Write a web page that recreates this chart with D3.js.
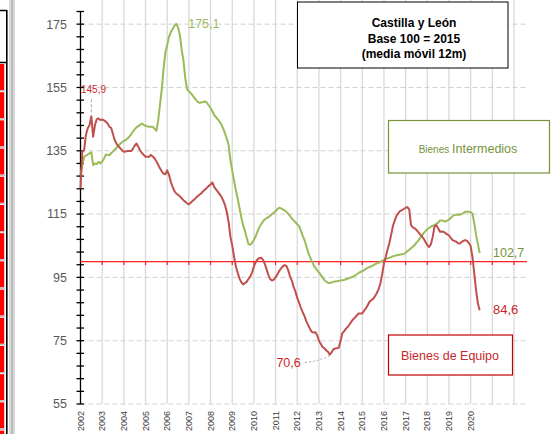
<!DOCTYPE html>
<html><head><meta charset="utf-8">
<script src="https://cdn.jsdelivr.net/npm/d3@7"></script>
<style>
body{margin:0;background:#fff;}
svg{display:block;font-family:"Liberation Sans",Arial,sans-serif;}
</style></head>
<body><svg id="c" width="558" height="434"></svg>
<script>
// Monthly data, Jan 2002 .. Jun 2020 (12-month moving average, base 2015 = 100)
const startYear = 2002;
const intermedios = [
127.3,130.5,133.0,133.5,133.8,134.2,134.5,130.5,131.0,130.8,131.5,131.0,
131.6,132.5,133.8,133.7,133.6,134.2,134.8,135.4,136.0,136.6,137.2,137.7,
138.1,138.4,138.9,139.4,140.2,141.0,141.8,142.4,142.8,143.2,143.6,143.2,
142.9,142.7,142.6,142.6,142.6,142.0,141.3,144.5,149.5,154.5,161.0,166.0,
168.4,171.0,172.5,173.5,174.5,175.1,174.0,171.5,167.0,163.5,158.0,154.5,
153.8,153.2,152.6,151.8,151.0,150.4,150.1,150.3,150.4,150.6,150.2,149.3,
148.5,147.5,146.3,145.6,144.9,144.2,143.3,142.0,140.5,138.8,136.8,132.0,
128.8,125.5,122.5,120.0,117.0,114.0,111.5,109.8,107.5,105.5,105.3,106.0,
106.8,108.0,109.5,110.8,111.8,112.6,113.3,113.7,114.0,114.5,115.0,115.4,
116.0,116.5,117.0,116.8,116.5,116.2,115.7,115.1,114.4,113.6,113.0,112.4,
111.8,111.2,109.8,108.2,106.8,105.0,103.0,101.5,100.2,99.0,98.0,97.3,
96.6,95.8,95.0,94.2,93.7,93.3,93.2,93.4,93.6,93.7,93.8,93.9,
94.0,94.1,94.2,94.4,94.6,94.8,95.1,95.3,95.6,96.0,96.4,96.7,
97.0,97.3,97.7,98.0,98.3,98.5,98.8,99.1,99.4,99.6,99.9,100.2,
100.5,100.8,101.0,101.2,101.4,101.7,101.8,102.0,102.1,102.2,102.3,102.4,
102.8,103.3,103.7,104.2,104.7,105.2,106.0,106.6,107.4,108.2,109.0,109.6,
110.2,110.6,111.0,111.3,111.6,111.9,112.3,113.0,113.0,112.8,112.6,112.9,
113.3,113.8,114.3,114.7,114.8,114.9,114.8,115.0,115.3,115.7,115.7,115.7,
115.6,115.2,112.1,108.5,105.5,102.7
];
const equipo = [
123.1,134.7,135.2,140.0,142.1,143.1,145.9,139.4,143.1,145.0,145.2,144.7,
144.9,144.6,144.2,143.6,142.6,142.2,140.2,138.3,137.2,136.4,135.8,135.2,
134.7,134.8,134.9,134.9,134.9,135.6,136.6,137.3,136.3,135.1,134.3,133.7,
133.1,133.1,133.1,133.7,133.2,132.6,131.7,130.6,129.5,128.5,127.8,127.6,
128.8,127.4,125.2,123.6,122.3,121.5,121.1,120.6,120.0,119.4,118.9,118.4,
118.1,118.6,119.1,119.6,120.2,120.7,121.2,121.6,122.3,122.8,123.3,123.9,
124.3,125.0,123.6,122.8,122.1,121.3,120.5,119.3,117.8,115.7,112.5,107.8,
105.2,101.5,98.5,96.5,94.7,93.5,92.8,93.2,93.6,94.5,95.3,96.5,
98.5,99.8,100.7,101.1,101.2,100.6,99.3,97.6,95.8,94.5,94.0,94.3,
95.0,96.0,97.0,97.8,98.5,98.9,98.6,97.3,95.3,94.0,92.0,90.5,
88.5,87.0,85.4,84.0,82.8,81.2,80.0,78.8,77.8,77.6,77.7,76.8,
75.0,74.0,73.0,72.6,72.0,71.5,70.6,71.3,72.3,72.5,72.6,72.8,
75.0,77.4,78.0,78.8,79.4,80.2,81.0,81.8,82.3,83.0,83.6,83.6,
83.6,84.5,85.2,86.2,87.3,87.8,88.2,89.0,90.0,91.2,93.0,96.0,
99.5,101.5,103.8,105.8,108.5,111.3,113.0,114.5,115.3,116.0,116.2,116.6,
117.0,117.2,116.5,111.5,110.8,110.5,110.0,109.3,108.6,108.0,107.2,106.2,
105.2,104.6,105.5,107.8,111.0,111.5,110.5,109.4,109.5,109.4,109.0,108.6,
108.3,107.5,106.8,106.5,106.3,105.8,105.7,106.2,106.5,106.8,106.5,105.9,
104.9,101.5,96.3,91.0,86.8,84.6
];
const yearLabels = ["2002","2003","2004","2005","2006","2007","2008","2009","2010","2011","2012","2013","2014","2015","2016","2017","2018","2019","2020"];
const gridYears = d3.range(2003, 2023);
const yLabelValues = [55,75,95,115,135,155,175];
const titleLines = ["Castilla y León","Base 100 = 2015","(media móvil 12m)"];
const annotations = [
  {series:"equipo", value:145.9, text:"145,9"},
  {series:"intermedios", value:175.1, text:"175,1"},
  {series:"equipo", value:70.6, text:"70,6"},
  {series:"intermedios", value:102.7, text:"102,7"},
  {series:"equipo", value:84.6, text:"84,6"}
];

const GREEN = "#9BBB59", RED = "#C0504D", TXTRED = "#C9262C", TXTGREEN = "#77933C";
const svg = d3.select("#c");
const x = d3.scaleLinear().domain([2002, 2022.6]).range([80.5, 527]);
const y = d3.scaleLinear().domain([55, 179]).range([404, 11.5]);
const tOf = i => startYear + i/12;

// left spreadsheet strip
const strip = svg.append("g");
strip.append("rect").attr("x",9).attr("y",0).attr("width",6).attr("height",434).attr("fill","#d9d9d9");
strip.append("rect").attr("x",11.5).attr("y",0).attr("width",1.2).attr("height",434).attr("fill","#a6a6a6");
strip.append("path").attr("d","M0,10.5H7M0,62.5H7").attr("stroke","#000").attr("stroke-width",1.5);
strip.append("rect").attr("x",6).attr("y",10).attr("width",1.6).attr("height",424).attr("fill","#000");
d3.range(64, 434, 28.2).forEach(yy=>{
  strip.append("rect").attr("x",0).attr("y",yy).attr("width",4.2).attr("height",26).attr("fill","#ff0000");
  strip.append("rect").attr("x",0).attr("y",yy+26).attr("width",5).attr("height",1.5).attr("fill","#bfbfbf");
});

// gridlines
svg.append("g").selectAll("line").data(gridYears).join("line")
  .attr("x1",d=>x(d)).attr("x2",d=>x(d)).attr("y1",0).attr("y2",404)
  .attr("stroke","#d9d9d9").attr("stroke-width",1.3);
svg.append("g").selectAll("line").data(yLabelValues).join("line")
  .attr("x1",80.5).attr("x2",527).attr("y1",d=>y(d)).attr("y2",d=>y(d))
  .attr("stroke","#d0d0d0").attr("stroke-width",1).attr("stroke-dasharray","5,3");

// y axis
svg.append("line").attr("x1",80.5).attr("x2",80.5).attr("y1",y(179)).attr("y2",y(55)).attr("stroke","#000").attr("stroke-width",1.3);
svg.append("g").selectAll("line").data(d3.range(55,180,4)).join("line")
  .attr("x1",76.5).attr("x2",84).attr("y1",d=>y(d)).attr("y2",d=>y(d)).attr("stroke","#000").attr("stroke-width",1.3);
svg.append("g").selectAll("text").data(yLabelValues).join("text")
  .attr("x",67).attr("y",d=>y(d)).attr("dy","0.35em").attr("text-anchor","end")
  .attr("font-size",12.5).attr("fill","#595959").text(d=>d);

// x labels
svg.append("g").selectAll("text").data(yearLabels).join("text")
  .attr("transform",d=>`translate(${x(+d)+3.2},411) rotate(-90)`)
  .attr("text-anchor","end").attr("font-size",9).attr("fill","#404040").text(d=>d);

// 100 reference line with ticks
svg.append("line").attr("x1",80.5).attr("x2",527).attr("y1",y(100)).attr("y2",y(100)).attr("stroke","#ff2020").attr("stroke-width",1.3);
svg.append("g").selectAll("line").data(gridYears).join("line")
  .attr("x1",d=>x(d)).attr("x2",d=>x(d)).attr("y1",y(100)).attr("y2",y(100)+3.5)
  .attr("stroke","#ff2020").attr("stroke-width",1.2);

// series
const line = d3.line().x((d,i)=>x(tOf(i))).y(d=>y(d));
svg.append("path").datum(intermedios).attr("d",line).attr("fill","none").attr("stroke",GREEN).attr("stroke-width",2).attr("stroke-linejoin","round");
svg.append("path").datum(equipo).attr("d",line).attr("fill","none").attr("stroke",RED).attr("stroke-width",2).attr("stroke-linejoin","round");

// annotations
const series = {intermedios, equipo};
const pos = a => { const arr = series[a.series]; const i = arr.indexOf(a.value); return [x(tOf(i)), y(a.value)]; };
const lead = "#a6a6a6";
// 145,9
{ const [px,py] = pos(annotations[0]);
  svg.append("line").attr("x1",px).attr("x2",px).attr("y1",py-4).attr("y2",98).attr("stroke",lead).attr("stroke-dasharray","3,2");
  svg.append("text").attr("x",81).attr("y",89.5).attr("dy","0.35em").attr("font-size",10).attr("fill",TXTRED).text(annotations[0].text); }
// 175,1
{ const [px,py] = pos(annotations[1]);
  svg.append("text").attr("x",px+12).attr("y",24).attr("dy","0.35em").attr("font-size",12.5).attr("fill",GREEN).text(annotations[1].text); }
// 70,6
{ const [px,py] = pos(annotations[2]);
  svg.append("path").attr("d",`M${px},${py+1}Q${px-12},${py+7} ${px-26},${py+8}`).attr("fill","none").attr("stroke",lead).attr("stroke-dasharray","2,2");
  svg.append("text").attr("x",px-29).attr("y",py+8).attr("dy","0.35em").attr("text-anchor","end").attr("font-size",12.5).attr("fill",TXTRED).text(annotations[2].text); }
// 102,7
{ const [px,py] = pos(annotations[3]);
  svg.append("text").attr("x",493).attr("y",py).attr("dy","0.35em").attr("font-size",12.5).attr("fill",TXTGREEN).text(annotations[3].text); }
// 84,6
{ const [px,py] = pos(annotations[4]);
  svg.append("text").attr("x",493).attr("y",py-1).attr("dy","0.35em").attr("font-size",13).attr("fill",TXTRED).text(annotations[4].text); }

// title box
svg.append("rect").attr("x",297.5).attr("y",2).attr("width",210.5).attr("height",66).attr("fill","#fff").attr("stroke","#000").attr("stroke-width",1);
svg.append("g").selectAll("text").data(titleLines).join("text")
  .attr("x",414).attr("y",(d,i)=>23+i*15.5).attr("dy","0.35em").attr("text-anchor","middle")
  .attr("font-size",12).attr("font-weight","bold").attr("fill","#000").text(d=>d);

// legend boxes
svg.append("rect").attr("x",388.5).attr("y",120.5).attr("width",161).attr("height",52.5).attr("fill","#fff").attr("stroke",TXTGREEN).attr("stroke-width",1.2);
const lt = svg.append("text").attr("x",468).attr("y",147.5).attr("dy","0.35em").attr("text-anchor","middle").attr("fill",TXTGREEN);
lt.append("tspan").attr("font-size",10).text("Bienes ");
lt.append("tspan").attr("font-size",12.5).text("Intermedios");
svg.append("rect").attr("x",388.5).attr("y",335).attr("width",124).attr("height",40).attr("fill","#fff").attr("stroke","#C00000").attr("stroke-width",1.2);
svg.append("text").attr("x",450).attr("y",356).attr("dy","0.35em").attr("text-anchor","middle").attr("font-size",12.5).attr("fill",TXTRED).text("Bienes de Equipo");
</script></body></html>
